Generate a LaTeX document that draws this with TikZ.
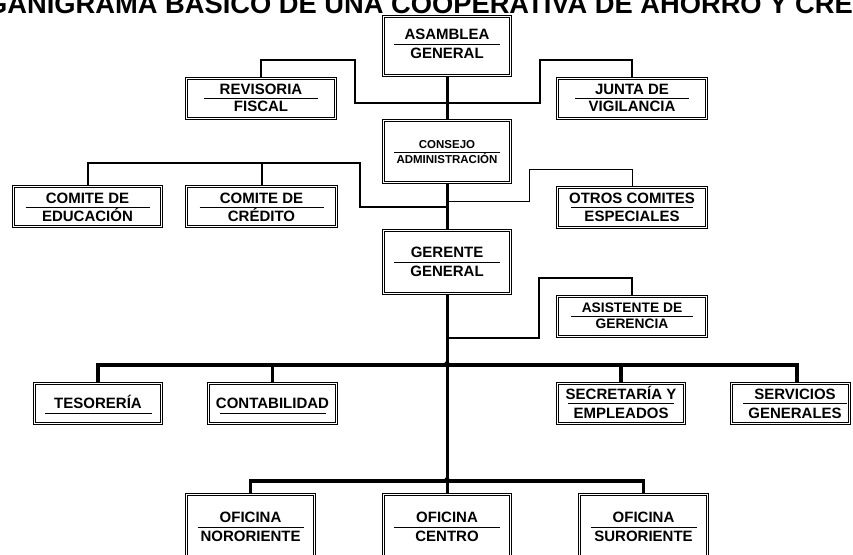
\documentclass[tikz,border=0pt]{standalone}
\usepackage{fontspec}
\setmainfont{Liberation Sans}
\usetikzlibrary{arrows.meta}
\tikzset{
  obox/.style={draw=black, double=white, double distance=1pt, line width=1.2pt, inner sep=0pt},
  lblL/.style={inner sep=0pt, text depth=0pt, text height=10.8pt, font=\bfseries\fontsize{15}{15}\selectfont},
  lblM/.style={inner sep=0pt, text depth=0pt, text height=9.9pt, font=\bfseries\fontsize{13.8}{14}\selectfont},
  lblS/.style={inner sep=0pt, text depth=0pt, text height=8.2pt, font=\bfseries\fontsize{11.5}{12}\selectfont},
  ul/.style={line width=0.9pt},
  mainline/.style={line width=3pt},
  branch/.style={line width=3.4pt, line join=miter},
  sideline/.style={line width=1.5pt},
  thinline/.style={line width=0.9pt},
  uparrow/.style={line width=3pt, -{Triangle[width=8pt,length=5pt]}},
}
\newcommand{\twolines}[8]{%
  \node[#2] (#1a) at (#3,#4-#5) {#7};
  \node[#2] (#1b) at (#3,#4+#5) {#8};
  \draw[ul] (#3-#6,#4) -- (#3+#6,#4);}
\begin{document}
\begin{tikzpicture}[x=1pt,y=-1pt]
\useasboundingbox (0,0) rectangle (853,554);
\clip (0,0) rectangle (853,554);
% title (cut at the top edge, as in the reference)
\node[inner sep=0pt, anchor=base east, font=\bfseries\fontsize{27.3}{28}\selectfont] (title) at (853,13.5)
  {ORGANIGRAMA BASICO DE UNA COOPERATIVA DE AHORRO Y CRÉ\rlap{DITO}};
% boxes
\node[obox, minimum width=127pt, minimum height=59pt] (asam) at (447,46) {};
\node[obox, minimum width=149pt, minimum height=40pt] (revi) at (261,98.5) {};
\node[obox, minimum width=149pt, minimum height=40pt] (junta) at (632,98.5) {};
\node[obox, minimum width=127pt, minimum height=62pt] (consejo) at (447,151.5) {};
\node[obox, minimum width=148pt, minimum height=40pt] (edu) at (87.5,206.5) {};
\node[obox, minimum width=150pt, minimum height=40pt] (cred) at (261.5,206.5) {};
\node[obox, minimum width=149pt, minimum height=40pt] (otros) at (632,207.5) {};
\node[obox, minimum width=127pt, minimum height=63pt] (gerente) at (447,262) {};
\node[obox, minimum width=149pt, minimum height=40pt] (asist) at (632,316.5) {};
\node[obox, minimum width=127pt, minimum height=40pt] (teso) at (98,403.5) {};
\node[obox, minimum width=128pt, minimum height=40pt] (conta) at (272.5,403.5) {};
\node[obox, minimum width=127pt, minimum height=40pt] (secre) at (621,403.5) {};
\node[obox, minimum width=118pt, minimum height=40pt] (serv) at (790.5,403.5) {};
\node[obox, minimum width=128pt, minimum height=63pt] (nor) at (250.5,526) {};
\node[obox, minimum width=127pt, minimum height=63pt] (cen) at (447,526) {};
\node[obox, minimum width=128pt, minimum height=63pt] (sur) at (643.5,526) {};
% texts
\twolines{tasam}{lblL}{447}{44}{9.5}{53}{ASAMBLEA}{GENERAL}
\twolines{trevi}{lblL}{261}{98}{8.5}{57}{REVISORIA}{FISCAL}
\twolines{tjunta}{lblL}{632}{98}{8.5}{57}{JUNTA DE}{VIGILANCIA}
\twolines{tcons}{lblS}{447}{152}{7.5}{53}{CONSEJO}{ADMINISTRACIÓN}
\twolines{tedu}{lblL}{87.5}{207}{9}{62}{COMITE DE}{EDUCACIÓN}
\twolines{tcred}{lblL}{261.5}{207}{9}{62}{COMITE DE}{CRÉDITO}
\twolines{totros}{lblL}{632}{207}{9}{61}{OTROS COMITES}{ESPECIALES}
\twolines{tger}{lblL}{447}{262}{9.5}{53}{GERENTE}{GENERAL}
\twolines{tasist}{lblM}{632}{316}{8}{61}{ASISTENTE DE}{GERENCIA}
\twolines{tsecre}{lblL}{621}{403.5}{9.5}{53}{SECRETARÍA Y}{EMPLEADOS}
\twolines{tserv}{lblL}{795}{403.5}{9.5}{52}{SERVICIOS}{GENERALES}
\twolines{tnor}{lblL}{250.5}{527}{9.5}{53}{OFICINA}{NORORIENTE}
\twolines{tcen}{lblL}{447}{527}{9.5}{53}{OFICINA}{CENTRO}
\twolines{tsur}{lblL}{643.5}{527}{9.5}{53}{OFICINA}{SURORIENTE}
\node[lblL] (tteso) at (98,403) {TESORERÍA};
\draw[ul] (45,413) -- (152,413);
\node[lblL] (tconta) at (272.5,403) {CONTABILIDAD};
\draw[ul] (220,413) -- (326,413);
% junction points
\coordinate (jA) at (447,103);
\coordinate (jB) at (447,207);
\coordinate (jC) at (447,201);
\coordinate (jD) at (447,338);
\coordinate (b1) at (447,365);
\coordinate (b2) at (447,481);
\coordinate (rvA) at (261,60);
\coordinate (rvB) at (355,60);
\coordinate (rvC) at (355,103);
\coordinate (juA) at (632,60);
\coordinate (juB) at (540,60);
\coordinate (juC) at (540,103);
\coordinate (cmA) at (360,207);
\coordinate (cmB) at (360,163);
\coordinate (cmC) at (87.5,163);
\coordinate (crA) at (261.5,163);
\coordinate (otA) at (529,201);
\coordinate (otB) at (529,169);
\coordinate (otC) at (632,169);
\coordinate (asA) at (539,338);
\coordinate (asB) at (539,278);
\coordinate (asC) at (632,278);
\coordinate (b1L) at (98,365);
\coordinate (b1R) at (797,365);
\coordinate (svT) at (797,382);
\coordinate (b2L) at (250.5,481);
\coordinate (b2R) at (643.5,481);
\coordinate (b1tip) at (447,360);
\coordinate (b2tip) at (447,476);
% connectors
\draw[mainline] (asam.south) -- (consejo.north);
\draw[mainline] (consejo.south) -- (gerente.north);
\draw[mainline] (gerente.south) -- (b1);
\draw[sideline] (revi.north) -- (rvA) -- (rvB) -- (rvC) -- (jA);
\draw[sideline] (junta.north) -- (juA) -- (juB) -- (juC) -- (jA);
\draw[line width=2pt] (jB) -- (cmA) -- (cmB) -- (cmC) -- (edu.north);
\draw[line width=2pt] (crA) -- (cred.north);
\draw[thinline] (jC) -- (otA) -- (otB) -- (otC) -- (otros.north);
\draw[sideline] (jD) -- (asA) -- (asB) -- (asC) -- (asist.north);
\draw[branch] (teso.north) -- (b1L) -- (b1R) -- (svT);
\draw[branch] (conta.north) -- (conta.north |- b1);
\draw[branch] (secre.north) -- (secre.north |- b1);
\draw[branch] (nor.north) -- (b2L) -- (b2R) -- (sur.north);
\draw[uparrow] (b2) -- (b1tip);
\draw[uparrow] (cen.north) -- (b2tip);
\end{tikzpicture}
\end{document}
